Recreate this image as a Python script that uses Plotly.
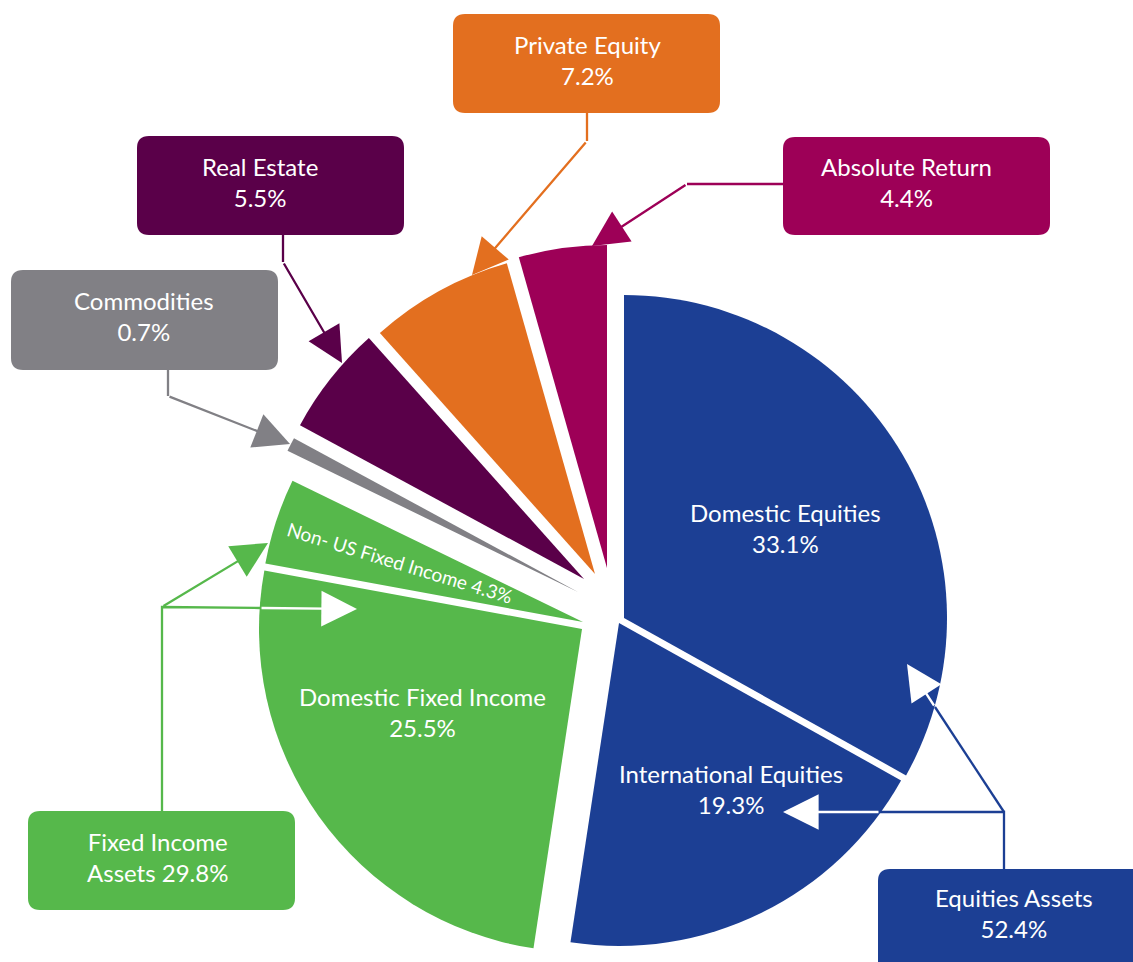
import plotly.graph_objects as go

# slices, clockwise from 12 o'clock
labels = ["Domestic Equities", "International Equities", "Domestic Fixed Income",
          "Non- US Fixed Income", "Commodities", "Real Estate", "Private Equity", "Absolute Return"]
values = [33.1, 19.3, 25.5, 4.3, 0.7, 5.5, 7.2, 4.4]
colors = ["#1c3f94", "#1c3f94", "#56b84b", "#56b84b", "#818085", "#5a0049", "#e36f1f", "#9d0057"]

# asset groups (indexes into the slices)
group_names = ["Fixed Income", "Equities"]
group_members = [[2, 3], [0, 1]]
group_colors = ["#56b84b", "#1c3f94"]

W, H = 1133, 962
R = 323
FONT = "Lato"

# tip of every exploded slice, in pixels from top-left
tips = [(624, 618), (619, 623), (582, 629), (583, 622), (578, 592), (584, 579), (595, 574), (607, 568)]


def px(x):
    return x / W


def py(y):
    return 1 - y / H


fig = go.Figure()

for i, (tx, ty) in enumerate(tips):
    fig.add_trace(go.Pie(
        labels=labels,
        values=values,
        sort=False,
        direction="clockwise",
        rotation=0,
        marker=dict(colors=[colors[i] if j == i else "rgba(0,0,0,0)" for j in range(len(values))]),
        textinfo="none",
        hoverinfo="skip",
        showlegend=False,
        domain=dict(x=[px(tx - R), px(tx + R)], y=[py(ty + R), py(ty - R)]),
    ))


def rounded_box(x0, y0, x1, y1, color, r=12):
    path = (f"M {px(x0 + r)},{py(y0)} L {px(x1 - r)},{py(y0)} "
            f"Q {px(x1)},{py(y0)} {px(x1)},{py(y0 + r)} L {px(x1)},{py(y1 - r)} "
            f"Q {px(x1)},{py(y1)} {px(x1 - r)},{py(y1)} L {px(x0 + r)},{py(y1)} "
            f"Q {px(x0)},{py(y1)} {px(x0)},{py(y1 - r)} L {px(x0)},{py(y0 + r)} "
            f"Q {px(x0)},{py(y0)} {px(x0 + r)},{py(y0)} Z")
    fig.add_shape(type="path", path=path, xref="paper", yref="paper",
                  fillcolor=color, line=dict(width=0), layer="above")


def polyline(points, color, width=2.3):
    path = "M " + " L ".join(f"{px(x)},{py(y)}" for x, y in points)
    fig.add_shape(type="path", path=path, xref="paper", yref="paper",
                  line=dict(color=color, width=width), layer="above")


def arrow(tail, tip, color, width=2.3):
    fig.add_annotation(x=px(tip[0]), y=py(tip[1]), xref="paper", yref="paper",
                       ax=tail[0] - tip[0], ay=tail[1] - tip[1], text="",
                       showarrow=True, arrowhead=2, arrowsize=3.1, arrowwidth=width,
                       arrowcolor=color, standoff=0)


def label(x, y, text, size=24, angle=0):
    fig.add_annotation(x=px(x), y=py(y), xref="paper", yref="paper", text=text,
                       showarrow=False, textangle=angle, xanchor="center", yanchor="middle",
                       font=dict(family=FONT, size=size, color="white"))


def pct(v):
    return f"{v:.1f}%"


# labels inside the pie
label(785, 528, f"{labels[0]}<br>{pct(values[0])}")
label(731, 789, f"{labels[1]}<br>{pct(values[1])}")
label(422, 712, f"{labels[2]}<br>{pct(values[2])}")
label(400, 562, f"{labels[3]} {pct(values[3])}", size=19, angle=17)

# call-out boxes for the small slices: box, text centre, connector
callouts = {
    6: dict(box=(453, 14, 720, 113), text=(587, 60), path=[(587, 113), (587, 141)], tip=(472, 275)),
    5: dict(box=(137, 136, 404, 235), text=(260, 182), path=[(283, 235), (283, 262)], tip=(342, 363)),
    7: dict(box=(783, 137, 1050, 235), text=(906, 182), path=[(783, 184), (687, 184)], tip=(592, 246)),
    4: dict(box=(11, 270, 278, 370), text=(144, 316), path=[(168, 370), (168, 396)], tip=(290, 444)),
}
for i, c in callouts.items():
    rounded_box(*c["box"], colors[i])
    label(*c["text"], f"{labels[i]}<br>{pct(values[i])}")
    polyline(c["path"], colors[i])
    arrow(c["path"][-1], c["tip"], colors[i])

# group boxes
fi_total = sum(values[j] for j in group_members[0])
eq_total = sum(values[j] for j in group_members[1])

rounded_box(28, 811, 295, 910, group_colors[0])
label(157, 857, f"{group_names[0]}<br>Assets {pct(fi_total)}")
polyline([(162, 811), (162, 607), (260, 608)], group_colors[0])
arrow((260, 608), (357, 609), "white")
arrow((162, 607), (268, 543), group_colors[0])

rounded_box(878, 869, 1150, 985, group_colors[1])
label(1014, 913, f"{group_names[1]} Assets<br>{pct(eq_total)}")
polyline([(1004, 869), (1004, 812), (880, 812)], group_colors[1])
arrow((880, 812), (783, 812), "white")
polyline([(1004, 812), (935, 707)], group_colors[1])
arrow((935, 707), (907, 664), "white")

fig.update_layout(
    width=W,
    height=H,
    margin=dict(l=0, r=0, t=0, b=0),
    paper_bgcolor="white",
    plot_bgcolor="white",
    showlegend=False,
)

# drop the default page margin so the figure sits in the window corner
fig.write_html("out.html", config={"displayModeBar": False},
               post_script="document.body.style.margin = '0';")
